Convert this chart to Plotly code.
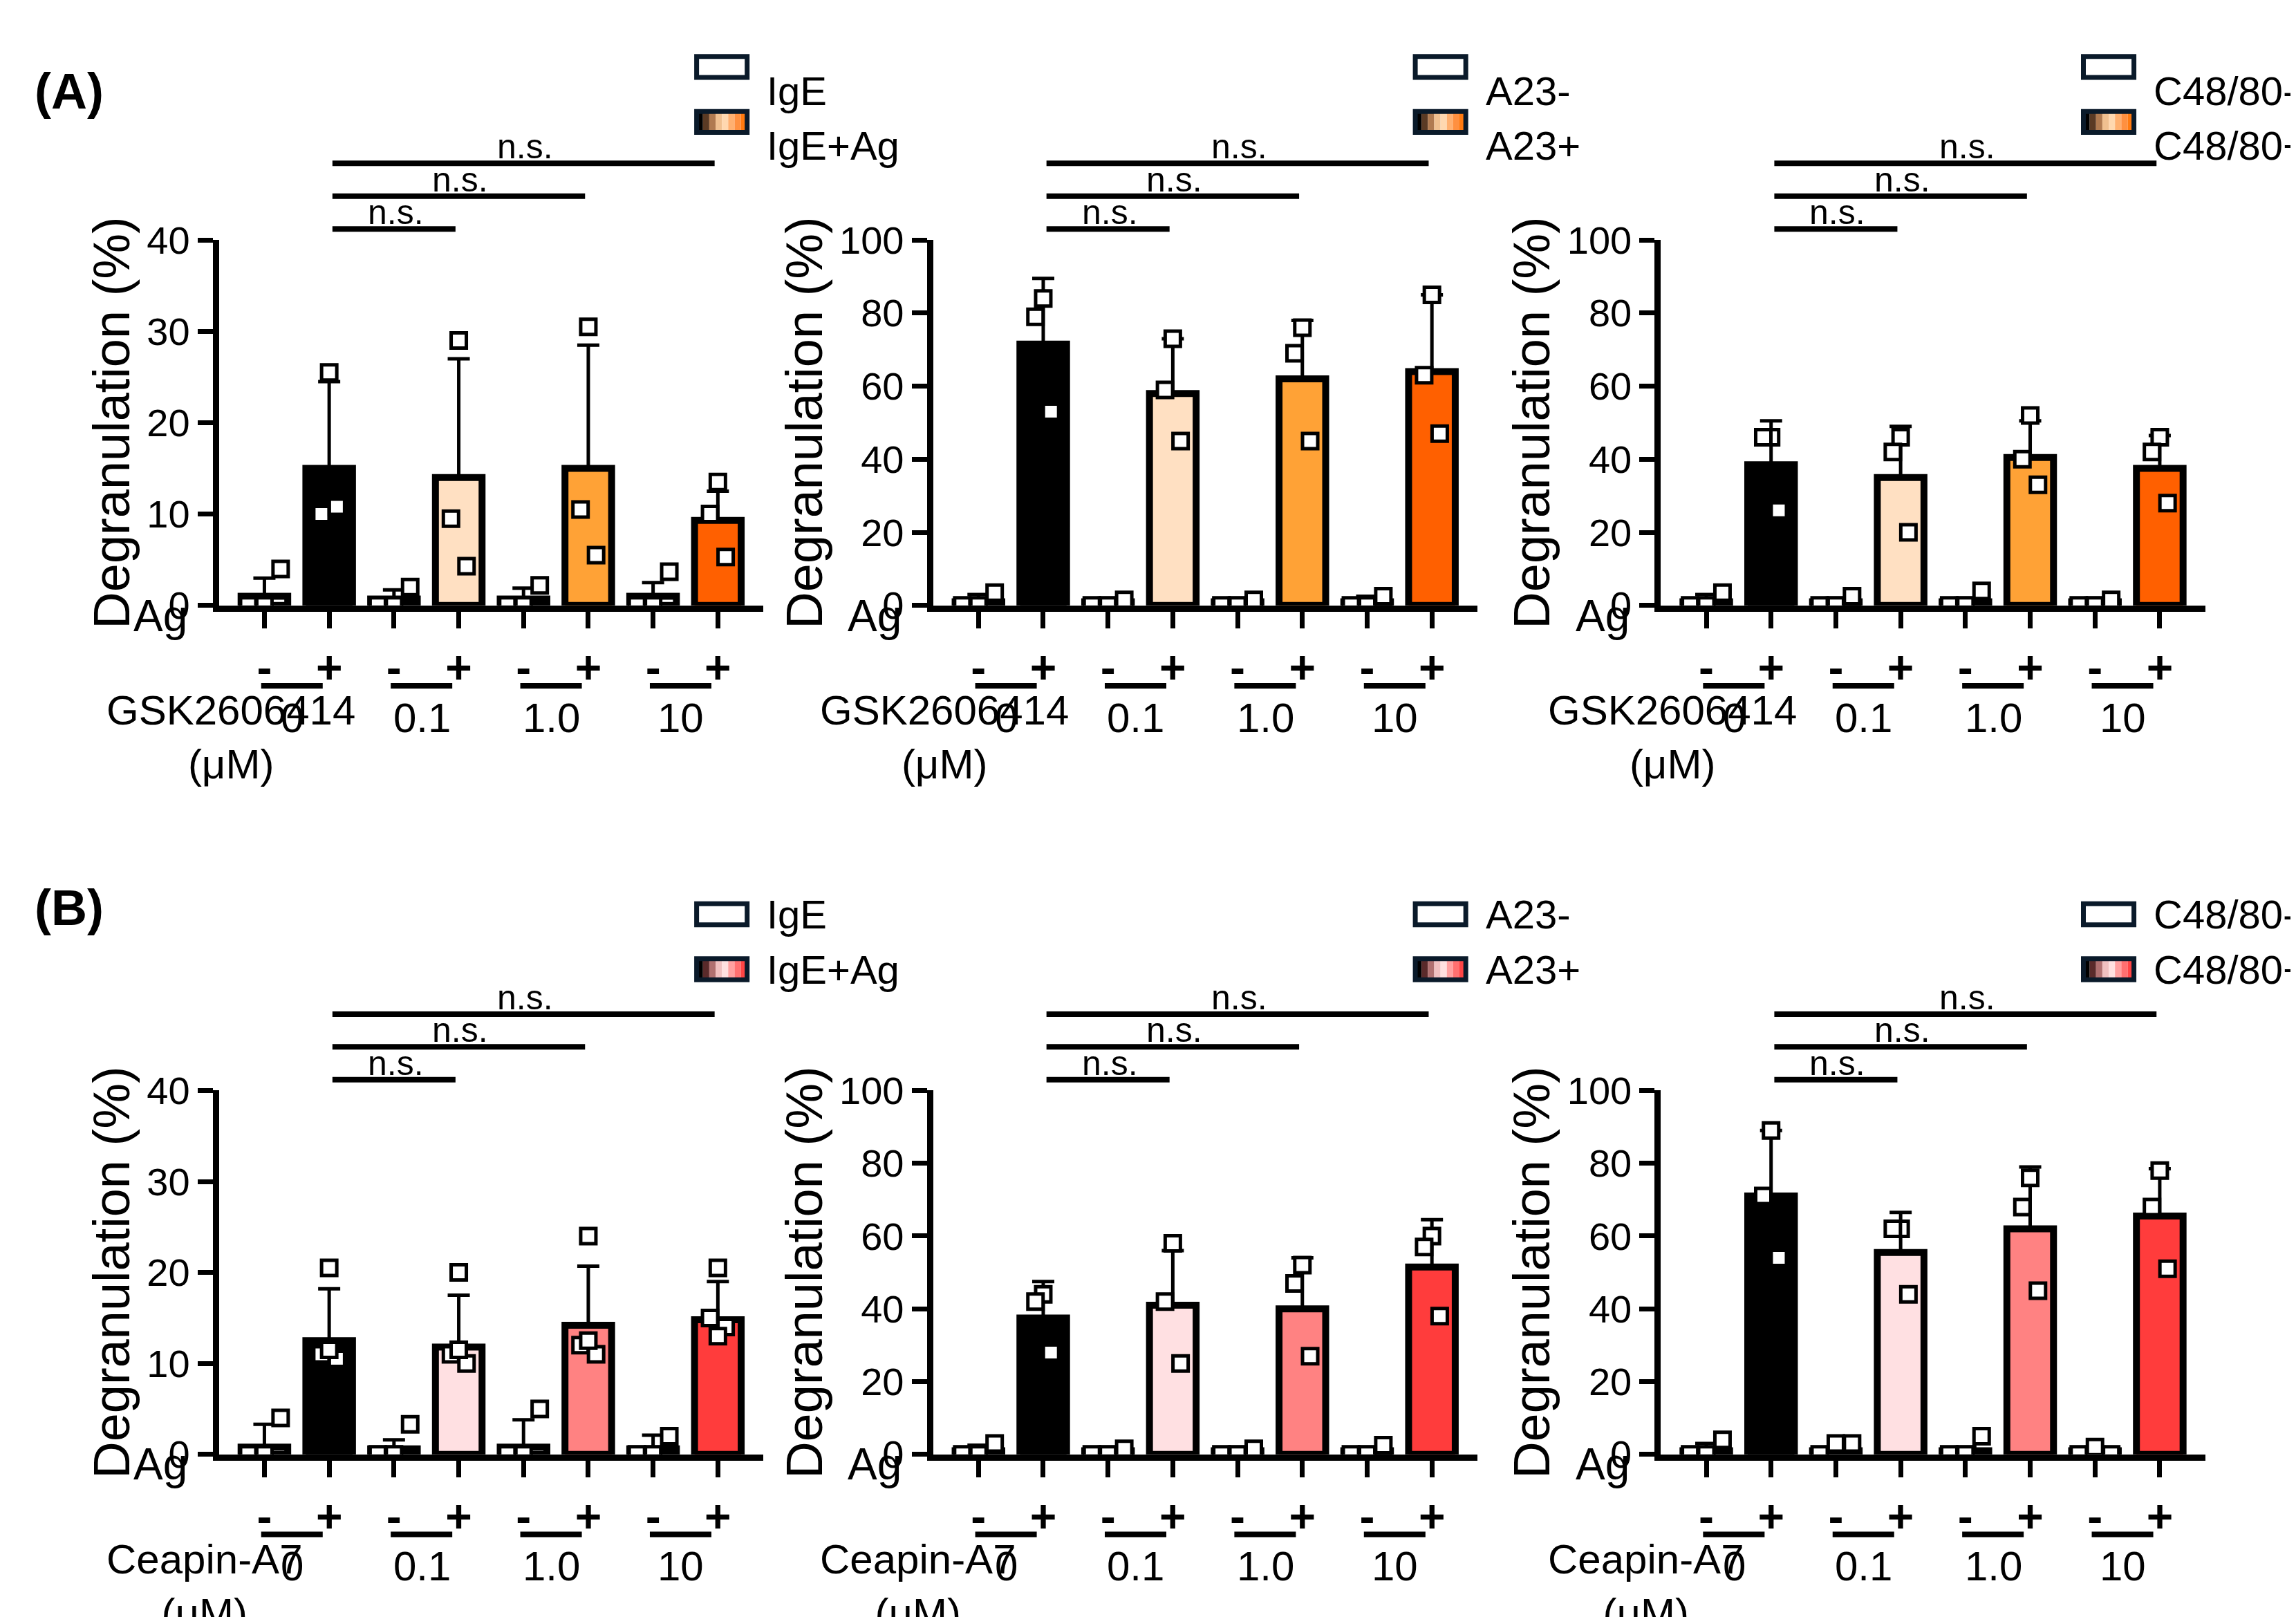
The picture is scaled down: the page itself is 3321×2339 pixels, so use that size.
import plotly.graph_objects as go

# ---- data ----
ag_labels = ['<b>-</b>', '<b>+</b>', '<b>-</b>', '<b>+</b>', '<b>-</b>', '<b>+</b>', '<b>-</b>', '<b>+</b>']
dose_labels = ['0', '0.1', '1.0', '10']

a1_mean = [1.0, 15.0, 0.7, 14.0, 0.7, 15.0, 1.0, 9.3]
a1_err = [2.0, 9.5, 1.0, 13.0, 1.2, 13.5, 1.5, 3.2]
a1_pts = [[0, 0, 4], [25.5, 10, 10.8], [0, 0, 2], [29, 9.5, 4.3],
          [0, 0, 2.2], [30.5, 10.5, 5.5], [0, 0, 3.7], [13.5, 10, 5.3]]

a2_mean = [1.0, 71.5, 1.0, 58.0, 1.0, 62.0, 1.0, 64.0]
a2_err = [2.0, 18.0, 1.0, 15.0, 1.0, 16.0, 1.5, 21.0]
a2_pts = [[0, 0, 3.5], [84, 79, 53], [0, 0, 1.5], [73, 59, 45],
          [0, 0, 1.5], [76, 69, 45], [0, 0, 2.5], [85, 63, 47]]

a3_mean = [1.0, 38.5, 1.0, 35.0, 1.0, 40.5, 1.0, 37.5]
a3_err = [2.0, 12.0, 1.0, 14.0, 1.0, 10.0, 1.0, 9.0]
a3_pts = [[0, 0, 3.5], [46, 46, 26], [0, 0, 2.5], [46, 42, 20],
          [0, 0, 4], [52, 40, 33], [0, 0, 1.5], [46, 42, 28]]

b1_mean = [0.8, 12.5, 0.6, 11.8, 0.8, 14.2, 0.6, 14.8]
b1_err = [2.5, 5.7, 1.0, 5.7, 3.0, 6.5, 1.5, 4.2]
b1_pts = [[0, 0, 4], [20.5, 11, 10.5, 11.5], [0, 0, 3.3], [20, 11, 10, 11.5],
          [0, 0, 5], [24, 12, 11, 12.5], [0, 0, 2], [20.5, 15, 14, 13]]

b2_mean = [1.0, 37.5, 1.0, 41.0, 1.0, 40.0, 1.0, 51.5]
b2_err = [1.5, 10.0, 1.0, 15.0, 1.0, 14.0, 1.0, 13.0]
b2_pts = [[0, 0, 3], [44, 42, 28], [0, 0, 1.5], [58, 42, 25],
          [0, 0, 1.5], [52, 47, 27], [0, 0, 2.5], [60, 57, 38]]

b3_mean = [1.0, 71.0, 1.0, 55.5, 1.0, 62.0, 1.0, 65.5]
b3_err = [2.0, 18.0, 1.0, 11.0, 1.0, 17.0, 1.0, 13.0]
b3_pts = [[0, 0, 4], [89, 71, 54], [0, 3, 3], [62, 62, 44],
          [0, 0, 5], [76, 68, 45], [0, 2, 0], [78, 68, 51]]

colors_a = ['white', 'black', 'white', '#FFE0C2', 'white', '#FFA236', 'white', '#FF6000']
colors_b = ['white', 'black', 'white', '#FFE0E2', 'white', '#FF8282', 'white', '#FF3C3C']
legend_a = [['IgE', 'IgE+Ag'], ['A23-', 'A23+'], ['C48/80-', 'C48/80+']]
grad_a = ['#000000', '#5a3a24', '#b07a50', '#f0c090', '#ffd8b0', '#ffb070', '#ff9040', '#ff7a10']
grad_b = ['#000000', '#5a2a2a', '#b07070', '#f0c0c0', '#ffe0e0', '#ffa0a0', '#ff7070', '#ff4545']

panels = [
    (a1_mean, a1_err, a1_pts, colors_a, 40, 10, 'GSK2606414'),
    (a2_mean, a2_err, a2_pts, colors_a, 100, 20, 'GSK2606414'),
    (a3_mean, a3_err, a3_pts, colors_a, 100, 20, 'GSK2606414'),
    (b1_mean, b1_err, b1_pts, colors_b, 40, 10, 'Ceapin-A7'),
    (b2_mean, b2_err, b2_pts, colors_b, 100, 20, 'Ceapin-A7'),
    (b3_mean, b3_err, b3_pts, colors_b, 100, 20, 'Ceapin-A7'),
]

xdom = [[0.093, 0.330], [0.404, 0.641], [0.721, 0.958]]
ydom = [[0.629, 0.855], [0.104, 0.329]]
FONT = 'Arial'

fig = go.Figure()
layout = {}
shapes = []
annots = []

for i, (mean, err, pts, cols, ymax, dt, drug) in enumerate(panels):
    n = i + 1
    xa = 'x' if n == 1 else f'x{n}'
    ya = 'y' if n == 1 else f'y{n}'
    fig.add_trace(go.Bar(
        x=list(range(8)), y=mean, width=0.72, marker_color=cols,
        marker_line=dict(color='black', width=10), xaxis=xa, yaxis=ya,
        error_y=dict(type='data', array=err, arrayminus=[0] * 8, symmetric=False,
                     color='black', thickness=5, width=16),
        showlegend=False))
    px_, py_ = [], []
    for c, vals in enumerate(pts):
        offs = [-0.25, 0, 0.25, 0.12] if c % 2 == 0 else [0, -0.12, 0.12, 0.0]
        for k, v in enumerate(vals):
            px_.append(c + offs[k])
            py_.append(v)
    fig.add_trace(go.Scatter(
        x=px_, y=py_, mode='markers', xaxis=xa, yaxis=ya, showlegend=False,
        marker=dict(symbol='square', size=22, color='white',
                    line=dict(color='black', width=5))))

    row = 0 if n <= 3 else 1
    col = (n - 1) % 3
    layout['xaxis' if n == 1 else f'xaxis{n}'] = dict(
        domain=xdom[col], anchor=ya, range=[-0.7, 7.7],
        tickvals=list(range(8)), ticktext=ag_labels, ticks='outside',
        ticklen=24, tickwidth=7, tickcolor='black', showline=True,
        linewidth=9, linecolor='black', showgrid=False, zeroline=False,
        automargin=False,
        tickfont=dict(family=FONT, size=66, color='black'))
    layout['yaxis' if n == 1 else f'yaxis{n}'] = dict(
        domain=ydom[row], anchor=xa, range=[0, ymax], dtick=dt,
        ticks='outside', ticklen=22, tickwidth=7, tickcolor='black',
        showline=True, linewidth=9, linecolor='black', showgrid=False,
        zeroline=False, automargin=False,
        tickfont=dict(family='Arial Black, Arial', size=56, color='black'),
        title=dict(text='Degranulation (%)', standoff=4,
                   font=dict(family=FONT, size=74, color='black')))

    xr = 'x' if n == 1 else f'x{n}'
    yd = ('y' if n == 1 else f'y{n}') + ' domain'
    xd = ('x' if n == 1 else f'x{n}') + ' domain'
    # significance brackets
    for end, yy in zip([3, 5, 7], [1.03, 1.12, 1.21]):
        shapes.append(dict(type='line', xref=xr, yref=yd, x0=1.05, x1=end - 0.05,
                           y0=yy, y1=yy, line=dict(color='black', width=8)))
        annots.append(dict(xref=xr, yref=yd, x=(1.05 + end) / 2, y=yy, yanchor='bottom',
                           yshift=-6, text='n.s.', showarrow=False,
                           font=dict(family=FONT, size=50, color='black')))
    # dose groups
    for g, lab in enumerate(dose_labels):
        shapes.append(dict(type='line', xref=xr, yref=yd, x0=2 * g - 0.05, x1=2 * g + 0.9,
                           y0=-0.22, y1=-0.22, line=dict(color='black', width=8)))
        annots.append(dict(xref=xr, yref=yd, x=2 * g + 0.43, y=-0.24, yanchor='top',
                           text=lab, showarrow=False,
                           font=dict(family=FONT, size=60, color='black')))
    annots.append(dict(xref=xd, yref=yd, x=-0.16, y=-0.1, text='Ag', showarrow=False,
                       font=dict(family=FONT, size=64, color='black')))
    annots.append(dict(xref=xd, yref=yd, x=-0.21, y=-0.22, yanchor='top',
                       text=f'{drug}<br>(μM)', showarrow=False,
                       font=dict(family=FONT, size=60, color='black')))

# legends
sw_x = [0.301, 0.614, 0.905]
for r, (y1, y2) in enumerate([(0.962, 0.928), (0.438, 0.404)]):
    grad = grad_a if r == 0 else grad_b
    for c in range(3):
        x0 = sw_x[c]
        w = 0.022
        h = 0.013
        shapes.append(dict(type='rect', xref='paper', yref='paper', x0=x0, x1=x0 + w,
                           y0=y1 - h / 2, y1=y1 + h / 2, fillcolor='white',
                           line=dict(color='#0a1a2a', width=7)))
        for k, gc in enumerate(grad):
            shapes.append(dict(type='rect', xref='paper', yref='paper',
                               x0=x0 + w * k / len(grad), x1=x0 + w * (k + 1) / len(grad),
                               y0=y2 - h / 2, y1=y2 + h / 2, fillcolor=gc, line=dict(width=0)))
        shapes.append(dict(type='rect', xref='paper', yref='paper', x0=x0, x1=x0 + w,
                           y0=y2 - h / 2, y1=y2 + h / 2, line=dict(color='#0a1a2a', width=7)))
        for yy, txt in zip([y1, y2], legend_a[c]):
            annots.append(dict(xref='paper', yref='paper', x=x0 + w + 0.008, y=yy,
                               xanchor='left', text=txt, showarrow=False,
                               font=dict(family=FONT, size=58, color='black')))

annots.append(dict(xref='paper', yref='paper', x=0.012, y=0.965, xanchor='left',
                   text='<b>(A)</b>', showarrow=False, font=dict(family=FONT, size=72, color='black')))
annots.append(dict(xref='paper', yref='paper', x=0.012, y=0.442, xanchor='left',
                   text='<b>(B)</b>', showarrow=False, font=dict(family=FONT, size=72, color='black')))

fig.update_layout(**layout)
fig.update_layout(width=3321, height=2339, plot_bgcolor='white', paper_bgcolor='white',
                  margin=dict(l=0, r=0, t=0, b=0, autoexpand=False), shapes=shapes,
                  annotations=annots, bargap=0.2)
fig.write_html('out.html')
